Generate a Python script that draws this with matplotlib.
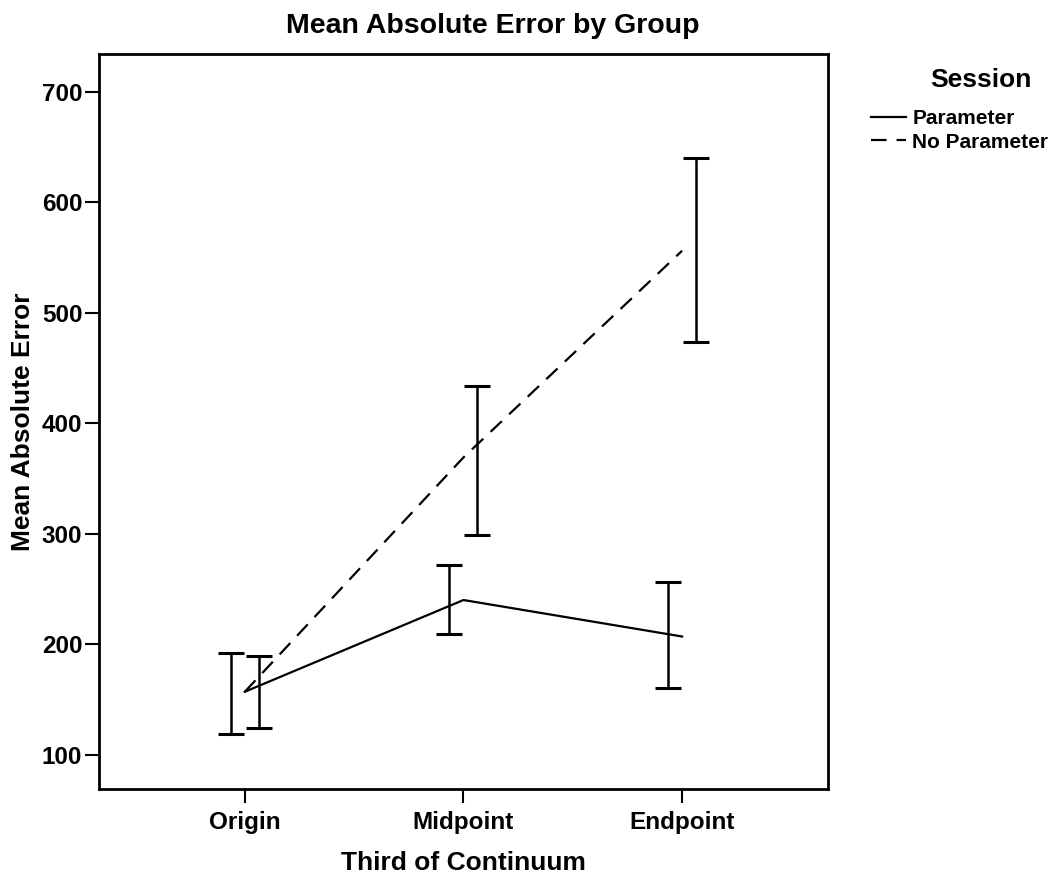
import numpy as np
import matplotlib.pyplot as plt
from matplotlib.lines import Line2D

plt.rcParams['font.family'] = ['Liberation Sans', 'DejaVu Sans']
plt.rcParams['font.weight'] = 'bold'
plt.rcParams['axes.titleweight'] = 'bold'
plt.rcParams['axes.labelweight'] = 'bold'

thirds = ["Origin", "Midpoint", "Endpoint"]

param_mean = [157, 240, 207]
param_low = [119, 209, 160]
param_high = [192, 272, 256]

nopar_mean = [157, 369, 556]
nopar_low = [124, 299, 473]
nopar_high = [189, 434, 640]

x = np.arange(len(thirds))
off = 0.064

fig = plt.figure(figsize=(10.55, 8.82), dpi=100)
ax = fig.add_axes([0.0938, 0.1054, 0.691, 0.8334])

ax.plot(x, param_mean, color="black", lw=1.6)
ax.plot(x, nopar_mean, color="black", lw=1.6, dashes=(7, 4.5))

def bars(xs, mean, low, high):
    mean = np.array(mean)
    err = [mean - np.array(low), np.array(high) - mean]
    ax.errorbar(xs, mean, yerr=err, fmt="none", ecolor="black",
                elinewidth=1.8, capsize=9.5, capthick=2.2)

bars(x - off, param_mean, param_low, param_high)
bars(x + off, nopar_mean, nopar_low, nopar_high)

ax.set_xlim(-0.667, 2.667)
ax.set_ylim(69, 734)
ax.set_xticks(x)
ax.set_xticklabels(thirds)
ax.set_yticks([100, 200, 300, 400, 500, 600, 700])
ax.tick_params(axis="both", direction="out", length=10, width=1.5,
               labelsize=17.5)
ax.tick_params(axis="x", pad=6)
ax.tick_params(axis="y", pad=2)
for s in ax.spines.values():
    s.set_linewidth(2)

ax.set_xlabel("Third of Continuum", fontsize=19, labelpad=12)
ax.set_ylabel("Mean Absolute Error", fontsize=19, labelpad=5)
ax.set_title("Mean Absolute Error by Group", fontsize=20.5, pad=15, x=0.54)

fig.text(0.93, 0.909, "Session", fontsize=19, fontweight="bold",
         ha="center", va="center")
handles = [Line2D([], [], color="black", lw=1.6),
           Line2D([], [], color="black", lw=1.6, dashes=(7, 4.5))]
leg = fig.legend(handles, ["Parameter", "No Parameter"],
                 loc="upper left", bbox_to_anchor=(0.826, 0.876),
                 frameon=False, fontsize=15,
                 handlelength=1.68, handletextpad=0.29, labelspacing=0.2,
                 borderaxespad=0, borderpad=0)

fig.savefig("out.png", dpi=100)
